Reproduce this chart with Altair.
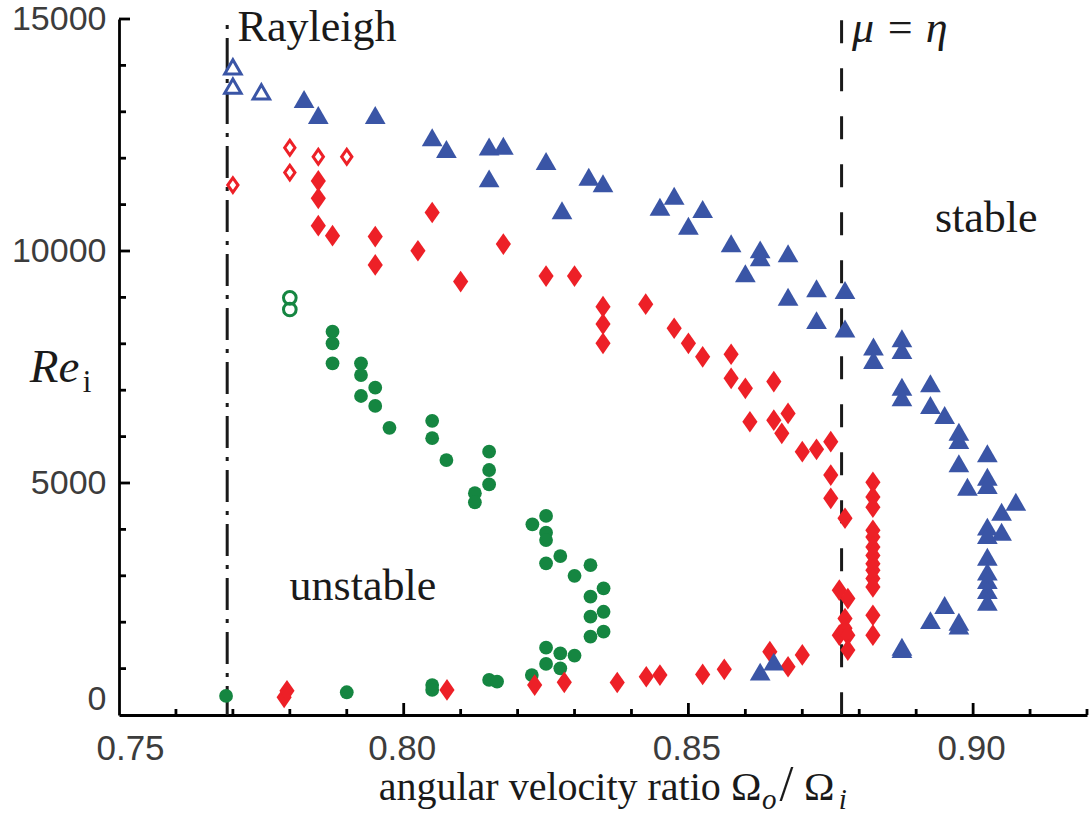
import altair as alt
import pandas as pd

BLUE = "#3a55a6"
RED = "#ed2027"
GREEN = "#158641"
INK = "#1a1a1a"
LABEL = "#3c3c3c"

# ---- data (angular velocity ratio, Re_i) ----
blue_filled = [
    (0.7825, 13275), (0.785, 12930), (0.795, 12930), (0.805, 12450), (0.8075, 12200),
    (0.815, 12250), (0.8175, 12270), (0.815, 11565), (0.825, 11940), (0.8278, 10880),
    (0.8325, 11600), (0.835, 11460), (0.845, 10955), (0.8475, 11190), (0.8525, 10905),
    (0.85, 10545), (0.8575, 10165), (0.8626, 10035), (0.8626, 9865), (0.86, 9520),
    (0.8675, 9950), (0.8675, 9015), (0.8725, 9195), (0.8725, 8510), (0.8775, 9160),
    (0.8775, 8330), (0.8825, 7940), (0.8825, 7650), (0.8875, 8120), (0.8875, 7865),
    (0.8875, 7075), (0.8875, 6850), (0.8925, 7150), (0.8925, 6680), (0.895, 6465),
    (0.8975, 6105), (0.8975, 5925), (0.8975, 5425), (0.899, 4920), (0.9025, 5640),
    (0.9025, 5135), (0.9025, 4955), (0.905, 4380), (0.9075, 4595), (0.9025, 4060),
    (0.9025, 3880), (0.905, 3950), (0.9025, 3410), (0.9025, 3090), (0.9025, 2910),
    (0.9025, 2695), (0.9025, 2440), (0.895, 2370), (0.8925, 2045), (0.8975, 2010),
    (0.8975, 1930), (0.8875, 1470), (0.8875, 1420), (0.8626, 935), (0.865, 1150),
]
blue_open = [(0.770, 13970), (0.770, 13555), (0.775, 13430)]

red_filled = [
    (0.785, 11510), (0.785, 11135), (0.785, 10545), (0.7875, 10330), (0.795, 10310),
    (0.795, 9700), (0.8025, 10005), (0.805, 10830), (0.81, 9340), (0.8175, 10150),
    (0.825, 9460), (0.830, 9460), (0.835, 8800), (0.835, 8425), (0.835, 8010),
    (0.8425, 8855), (0.8475, 8335), (0.85, 8010), (0.8525, 7720), (0.8575, 7775),
    (0.8575, 7255), (0.86, 7040), (0.865, 7185), (0.8608, 6320), (0.865, 6355),
    (0.8675, 6500), (0.8664, 6070), (0.870, 5675), (0.8725, 5725), (0.875, 5890),
    (0.875, 5170), (0.875, 4670), (0.8775, 4240),
    (0.8824, 5015), (0.8824, 4700), (0.8824, 4480), (0.8824, 3980), (0.8824, 3835),
    (0.8824, 3620), (0.8824, 3440), (0.8824, 3260), (0.8824, 3120), (0.8824, 2940),
    (0.8824, 2760), (0.8824, 2150), (0.8824, 1720),
    (0.8765, 2690), (0.8780, 2510), (0.8775, 2080), (0.8775, 1870), (0.8765, 1720),
    (0.8780, 1720), (0.8780, 1400),
    (0.779, 380), (0.7795, 520), (0.8076, 540), (0.823, 645), (0.8282, 705),
    (0.8375, 700), (0.8426, 825), (0.845, 860), (0.8525, 875), (0.8563, 985),
    (0.8643, 1365), (0.8675, 1040), (0.870, 1295),
]
red_open = [(0.770, 11420), (0.780, 12225), (0.780, 11690), (0.785, 12030), (0.790, 12030)]

green_filled = [
    (0.7875, 8260), (0.7875, 8010), (0.7875, 7580), (0.7925, 7580), (0.7925, 7325),
    (0.795, 7055), (0.7925, 6875), (0.795, 6660), (0.7975, 6190), (0.805, 6340),
    (0.805, 5965), (0.8075, 5495), (0.815, 5675), (0.815, 5280), (0.815, 4970),
    (0.8125, 4780), (0.8125, 4585), (0.8226, 4110), (0.825, 4290), (0.825, 3930),
    (0.825, 3770), (0.8275, 3425), (0.825, 3270), (0.830, 3000), (0.8328, 3230),
    (0.8351, 2730), (0.8328, 2550), (0.8351, 2225), (0.8328, 2120), (0.8351, 1795),
    (0.8328, 1690), (0.825, 1450), (0.8275, 1330), (0.830, 1280), (0.825, 1100),
    (0.8275, 1005), (0.8225, 860), (0.815, 755), (0.8164, 720), (0.805, 645),
    (0.805, 540), (0.790, 490), (0.7688, 410),
]
green_open = [(0.780, 8990), (0.780, 8740)]

# reference lines
rayleigh_line = {"x": [0.769], "y": [14870], "y2": [0]}
mu_eta_line = {"x": [0.8769], "y": [14975], "y2": [0]}

# axes
x_label_values = [0.75, 0.80, 0.85, 0.90]
x_major_ticks = [0.80, 0.85, 0.90]
x_minor_ticks = [0.76, 0.77, 0.78, 0.79, 0.81, 0.82, 0.83, 0.84, 0.86, 0.87,
                 0.88, 0.89, 0.91, 0.92]
y_label_values = [0, 5000, 10000, 15000]
y_major_ticks = [5000, 10000, 15000]
y_minor_ticks = [1000, 2000, 3000, 4000, 6000, 7000, 8000, 9000, 11000, 12000,
                 13000, 14000]

# annotations (data coordinates)
big_labels = {"x": [0.77083, 0.89329, 0.77996], "y": [14526, 10410, 2478],
              "t": ["Rayleigh", "stable", "unstable"]}
mu_label = {"x": [0.87872], "y": [14505], "t": ["\u03bc = \u03b7"]}
re_label = {"x": [0.73433], "y": [7177], "t": ["Re"]}
re_sub = {"x": [0.74363], "y": [6961], "t": ["i"]}
xt_main = {"x": [0.82565], "y": [-1830], "t": ["angular velocity ratio"]}
xt_omega = {"x": [0.85749, 0.87030], "y": [-1830, -1830], "t": ["\u03a9", "\u03a9"]}
xt_slash = {"x": [0.86600], "y": [-1830], "t": ["/"]}
xt_sub = {"x": [0.86293, 0.87640], "y": [-2020, -2020], "t": ["o", "i"]}

W, H = 968, 696
xscale = alt.Scale(domain=[0.75, 0.92], nice=False, zero=False)
yscale = alt.Scale(domain=[0, 15000], nice=False, zero=False)

x_axis = alt.Axis(
    values=x_label_values, format=".2f", title=None, grid=False, ticks=False,
    tickSize=0, domainColor="black", domainWidth=2.8, labelFont="Liberation Sans",
    labelFontSize=35, labelColor=LABEL, labelPadding=16, labelFlush=False,
    labelOverlap=False,
    labelOffset={"condition": {"test": "abs(datum.value - 0.75) < 1e-6", "value": 11},
                 "value": -2},
)
y_axis = alt.Axis(
    values=y_label_values, format="d", title=None, grid=False, ticks=False,
    tickSize=0, domainColor="black", domainWidth=2.8, labelFont="Liberation Sans",
    labelFontSize=34, labelColor=LABEL, labelPadding=13, labelFlush=False,
    labelOverlap=False,
    labelOffset={"condition": {"test": "datum.value === 0", "value": -16}, "value": 0},
)


def X():
    return alt.X("x:Q", scale=xscale, axis=x_axis)


def Y():
    return alt.Y("y:Q", scale=yscale, axis=y_axis)


def pts(pairs):
    return pd.DataFrame({"x": [p[0] for p in pairs], "y": [p[1] for p in pairs]})


DIAMOND = "M0,-1L0.7,0L0,1L-0.7,0Z"

layers = []

# inward ticks
layers.append(alt.Chart(pd.DataFrame({"x": x_major_ticks})).mark_rule(
    color="black", strokeWidth=2.8).encode(x=X(), y=alt.value(H), y2=alt.value(H - 12)))
layers.append(alt.Chart(pd.DataFrame({"x": x_minor_ticks})).mark_rule(
    color="black", strokeWidth=2.8).encode(x=X(), y=alt.value(H), y2=alt.value(H - 6)))
layers.append(alt.Chart(pd.DataFrame({"y": y_major_ticks})).mark_rule(
    color="black", strokeWidth=2.8).encode(y=Y(), x=alt.value(0), x2=alt.value(11)))
layers.append(alt.Chart(pd.DataFrame({"y": y_minor_ticks})).mark_rule(
    color="black", strokeWidth=2.8).encode(y=Y(), x=alt.value(0), x2=alt.value(7)))

# reference lines
layers.append(alt.Chart(pd.DataFrame(rayleigh_line)).mark_rule(
    color=INK, strokeWidth=3, strokeDash=[4, 9, 32, 9]).encode(x=X(), y=Y(), y2="y2:Q"))
layers.append(alt.Chart(pd.DataFrame(mu_eta_line)).mark_rule(
    color=INK, strokeWidth=3, strokeDash=[23, 25]).encode(x=X(), y=Y(), y2="y2:Q"))

# data points
layers.append(alt.Chart(pts(green_filled)).mark_point(
    shape="circle", filled=True, size=190, color=GREEN, opacity=1).encode(x=X(), y=Y()))
layers.append(alt.Chart(pts(green_open)).mark_point(
    shape="circle", filled=False, size=160, color=GREEN, strokeWidth=3,
    opacity=1).encode(x=X(), y=Y()))
layers.append(alt.Chart(pts(red_filled)).mark_point(
    shape=DIAMOND, filled=True, size=470, color=RED, opacity=1).encode(x=X(), y=Y()))
layers.append(alt.Chart(pts(red_open)).mark_point(
    shape=DIAMOND, filled=False, size=215, color=RED, strokeWidth=3,
    opacity=1).encode(x=X(), y=Y()))
layers.append(alt.Chart(pts(blue_filled)).mark_point(
    shape="triangle-up", filled=True, size=430, color=BLUE, opacity=1).encode(x=X(), y=Y()))
layers.append(alt.Chart(pts(blue_open)).mark_point(
    shape="triangle-up", filled=False, size=270, color=BLUE, strokeWidth=3,
    opacity=1).encode(x=X(), y=Y()))

# annotations
SERIF = "Liberation Serif"
layers.append(alt.Chart(pd.DataFrame(big_labels)).mark_text(
    font=SERIF, fontSize=44, align="left", baseline="alphabetic", color=INK
).encode(x=X(), y=Y(), text="t:N"))
layers.append(alt.Chart(pd.DataFrame(mu_label)).mark_text(
    font=SERIF, fontSize=44, fontStyle="italic", align="left", baseline="alphabetic",
    color=INK).encode(x=X(), y=Y(), text="t:N"))
layers.append(alt.Chart(pd.DataFrame(re_label)).mark_text(
    font=SERIF, fontSize=47, fontStyle="italic", align="left", baseline="alphabetic",
    color=INK).encode(x=X(), y=Y(), text="t:N"))
layers.append(alt.Chart(pd.DataFrame(re_sub)).mark_text(
    font=SERIF, fontSize=31, align="left", baseline="alphabetic",
    color=INK).encode(x=X(), y=Y(), text="t:N"))
layers.append(alt.Chart(pd.DataFrame(xt_main)).mark_text(
    font=SERIF, fontSize=40, align="center", baseline="alphabetic",
    color=INK).encode(x=X(), y=Y(), text="t:N"))
layers.append(alt.Chart(pd.DataFrame(xt_omega)).mark_text(
    font=SERIF, fontSize=41, align="left", baseline="alphabetic",
    color=INK).encode(x=X(), y=Y(), text="t:N"))
layers.append(alt.Chart(pd.DataFrame(xt_slash)).mark_text(
    font=SERIF, fontSize=50, align="left", baseline="alphabetic",
    color=INK).encode(x=X(), y=Y(), text="t:N"))
layers.append(alt.Chart(pd.DataFrame(xt_sub)).mark_text(
    font=SERIF, fontSize=29, fontStyle="italic", align="left", baseline="alphabetic",
    color=INK).encode(x=X(), y=Y(), text="t:N"))

chart = alt.layer(*layers).properties(
    width=W, height=H,
    padding={"left": 119, "top": 19, "right": 3, "bottom": 99},
    autosize=alt.AutoSizeParams(type="none"),
    background="white",
).configure_view(stroke=None)

chart.save("out.html", embed_options={"renderer": "svg", "actions": False})
